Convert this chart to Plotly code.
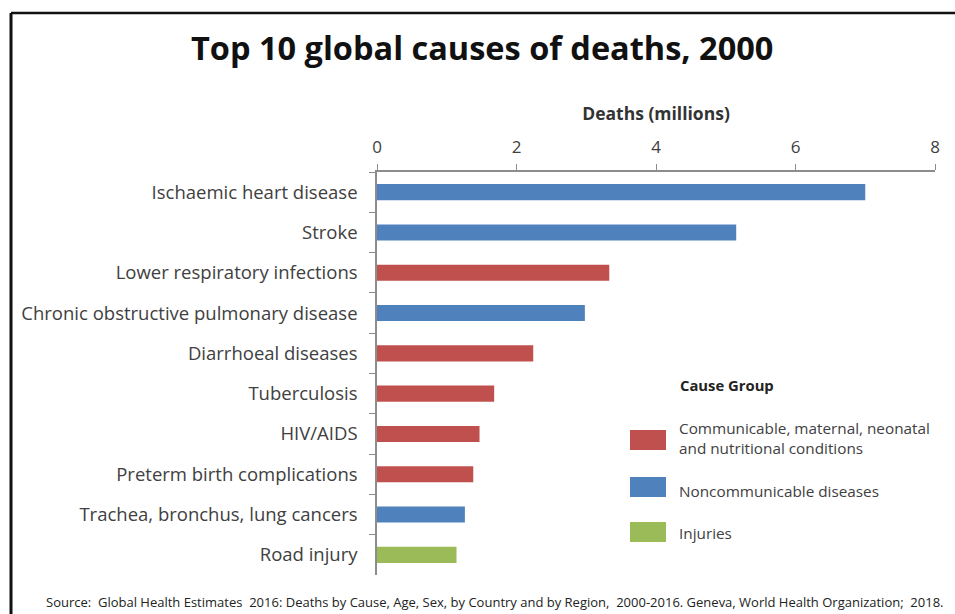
import plotly.graph_objects as go

causes = [
    "Ischaemic heart disease",
    "Stroke",
    "Lower respiratory infections",
    "Chronic obstructive pulmonary disease",
    "Diarrhoeal diseases",
    "Tuberculosis",
    "HIV/AIDS",
    "Preterm birth complications",
    "Trachea, bronchus, lung cancers",
    "Road injury",
]
deaths = [7.0, 5.15, 3.33, 2.98, 2.24, 1.68, 1.47, 1.38, 1.26, 1.14]
groups = ["NCD", "NCD", "CMN", "NCD", "CMN", "CMN", "CMN", "CMN", "NCD", "INJ"]

group_names = {
    "CMN": "Communicable, maternal, neonatal<br>and nutritional conditions",
    "NCD": "Noncommunicable diseases",
    "INJ": "Injuries",
}
group_colors = {"CMN": "#C0504D", "NCD": "#4F81BD", "INJ": "#9BBB59"}
legend_order = ["CMN", "NCD", "INJ"]

x_ticks = [0, 2, 4, 6, 8]

FONT = "Open Sans"
TXT = "#404040"

W, H = 955, 614
L, R, T, B = 377, 20, 172, 39
PW, PH = W - L - R, H - T - B


def px(x):
    return (x - L) / PW


def py(y):
    return (H - B - y) / PH


fig = go.Figure()
fig.add_trace(go.Bar(
    x=deaths,
    y=causes,
    orientation="h",
    marker=dict(color=[group_colors[g] for g in groups], line=dict(width=0)),
    width=0.4,
    showlegend=False,
))

shapes = [
    dict(type="line", xref="paper", yref="paper", x0=px(11), x1=px(11), y0=py(13), y1=py(620),
         line=dict(color="#111111", width=3)),
    dict(type="line", xref="paper", yref="paper", x0=px(11), x1=px(960), y0=py(13), y1=py(13),
         line=dict(color="#111111", width=2.5)),
]
annotations = [
    dict(text="<b>Top 10 global causes of deaths, 2000</b>", xref="paper", yref="paper",
         x=px(482), y=py(47), showarrow=False, font=dict(family=FONT, size=32.5, color="#111111"),
         xanchor="center", yanchor="middle"),
    dict(text="Source:  Global Health Estimates  2016: Deaths by Cause, Age, Sex, by Country and by Region,  2000-2016. Geneva, World Health Organization;  2018.",
         xref="paper", yref="paper", x=px(495), y=py(602), showarrow=False,
         font=dict(family=FONT, size=13, color="#222222"), xanchor="center", yanchor="middle"),
    dict(text="<b>Cause Group</b>", xref="paper", yref="paper", x=px(678), y=py(385),
         showarrow=False, font=dict(family=FONT, size=14.8, color="#222222"),
         xanchor="left", yanchor="middle"),
]

sw_y = {"CMN": 440, "NCD": 487, "INJ": 532}
txt_y = {"CMN": 438, "NCD": 491, "INJ": 533}
for g in legend_order:
    yc = sw_y[g]
    shapes.append(dict(type="rect", xref="paper", yref="paper", x0=px(630), x1=px(666),
                       y0=py(yc - 10), y1=py(yc + 10), fillcolor=group_colors[g],
                       line=dict(width=0)))
    annotations.append(dict(text=group_names[g], xref="paper", yref="paper", x=px(677),
                            y=py(txt_y[g]), showarrow=False, align="left",
                            font=dict(family=FONT, size=15.3, color=TXT),
                            xanchor="left", yanchor="middle"))

fig.update_layout(
    width=W, height=H,
    margin=dict(l=L, r=R, t=T, b=B),
    paper_bgcolor="white", plot_bgcolor="white",
    font=dict(family=FONT, color=TXT),
    shapes=shapes,
    annotations=annotations,
    bargap=0.6,
)
fig.update_xaxes(
    side="top", range=[0, 8], tickvals=x_ticks, ticktext=[str(v) for v in x_ticks],
    showgrid=False, zeroline=False, showline=True, linecolor="#8C8C8C", linewidth=1.5,
    ticks="outside", ticklen=6, tickcolor="#8C8C8C", tickfont=dict(size=17, color=TXT),
    ticklabelstandoff=4,
    title=dict(text="<b>Deaths (millions)</b>", font=dict(size=17.5, color="#333333"), standoff=10),
)
fig.update_yaxes(
    categoryorder="array", categoryarray=causes, autorange="reversed",
    showgrid=False, zeroline=False, showline=True, linecolor="#8C8C8C", linewidth=1.5,
    ticks="outside", ticklen=6, tickcolor="#8C8C8C", tickson="boundaries",
    tickfont=dict(size=18.5, color=TXT), ticklabelstandoff=14,
)

fig.write_html("out.html")
